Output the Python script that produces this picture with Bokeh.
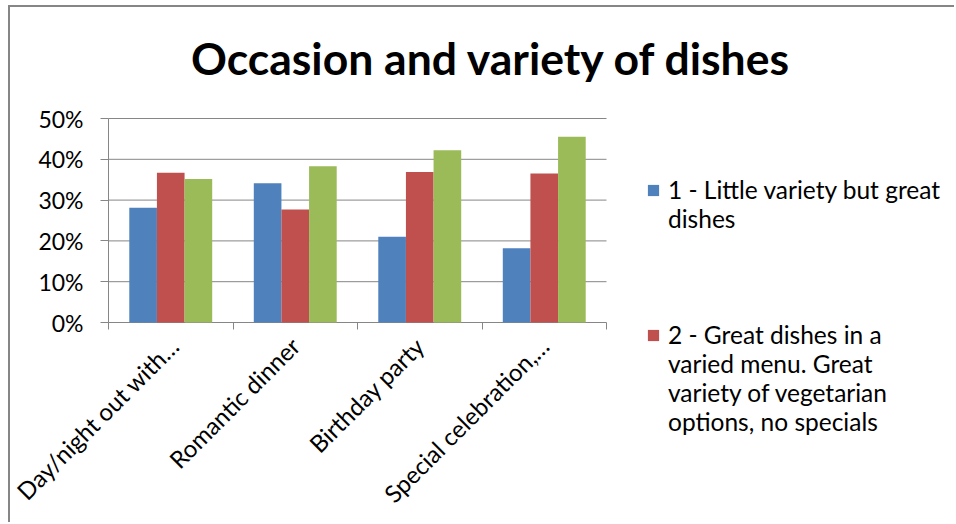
import numpy as np
from bokeh.plotting import figure
from bokeh.models import (ColumnDataSource, FixedTicker, NumeralTickFormatter, Label,
                          Legend, LegendItem, Range1d)
from bokeh.transform import dodge
from bokeh.embed import file_html
from bokeh.resources import INLINE

# ---- data ----
categories = ["Day/night out with\u2026", "Romantic dinner", "Birthday party", "Special celebration,\u2026"]
series1 = [0.281, 0.341, 0.210, 0.182]
series2 = [0.367, 0.277, 0.369, 0.365]
series3 = [0.352, 0.383, 0.422, 0.455]
series_names = ["1 - Little variety but great\ndishes",
                "2 - Great dishes in a\nvaried menu. Great\nvariety of vegetarian\noptions, no specials"]
y_ticks = [0, 0.1, 0.2, 0.3, 0.4, 0.5]
title_text = "Occasion and variety of dishes"

colors = ["#4F81BD", "#C0504D", "#9BBB59"]
FONT = "Lato"
GREY = "#868686"

# ---- layout (pixels, canvas coordinates; canvas sits 10,7 into the page) ----
W, H = 946, 517
PLOT_L, PLOT_T = 98, 111             # where the value axis / 50% line lie
PLOT_R, PLOT_B = 596, 315            # where the category axis ends / where 0% lies
n = len(categories)
px_per_x = (PLOT_R - PLOT_L) / n
px_per_y = (PLOT_B - PLOT_T) / y_ticks[-1]


def data_x(px):
    return (px - PLOT_L) / px_per_x


def data_y(py):
    return (PLOT_B - py) / px_per_y


centers = [i + 0.5 for i in range(n)]
src = ColumnDataSource(dict(x=centers, s1=series1, s2=series2, s3=series3))

p = figure(width=W, height=H, output_backend="svg", toolbar_location=None,
           x_range=Range1d(data_x(0), data_x(W)), y_range=Range1d(data_y(H), data_y(0)),
           min_border_left=0, min_border_right=0, min_border_top=0, min_border_bottom=0)
p.outline_line_color = None
p.background_fill_color = "white"
p.border_fill_color = "white"
p.title.visible = False
p.styles = {"margin-left": "8px", "margin-top": "5px",
            "border-left": "2px solid #868686", "border-top": "2px solid #868686"}
p.xgrid.grid_line_color = None
p.ygrid.grid_line_color = None

# horizontal gridlines across the category area only
p.segment(x0=[0] * len(y_ticks), x1=[n] * len(y_ticks), y0=y_ticks, y1=y_ticks,
          line_color=GREY, line_width=1)

bw = 0.222
rends = []
for key, off, c in [("s1", -bw, colors[0]), ("s2", 0.0, colors[1]), ("s3", bw, colors[2])]:
    rends.append(p.vbar(x=dodge("x", off), top=key, width=bw, bottom=0, source=src,
                        fill_color=c, line_color=None))

# value axis line (0% .. 50%)
p.segment(x0=[0], x1=[0], y0=[y_ticks[0]], y1=[y_ticks[-1]], line_color=GREY, line_width=1)

# y axis, drawn at x = 0
p.yaxis.fixed_location = 0
p.yaxis.ticker = FixedTicker(ticks=y_ticks)
p.yaxis.formatter = NumeralTickFormatter(format="0%")
p.yaxis.axis_line_color = None
p.yaxis.major_tick_line_color = GREY
p.yaxis.major_tick_out = 8
p.yaxis.major_tick_in = 0
p.yaxis.minor_tick_line_color = None
p.yaxis.major_label_text_font = FONT
p.yaxis.major_label_text_font_size = "23px"
p.yaxis.major_label_text_color = "black"
p.yaxis.major_label_standoff = 17

# x axis at 0%: labels at centers, tick marks at category boundaries
p.xaxis.fixed_location = 0
p.xaxis.ticker = FixedTicker(ticks=centers, minor_ticks=list(range(n + 1)))
p.xaxis.major_label_overrides = {c: lab for c, lab in zip(centers, categories)}
p.xaxis.axis_line_color = None
p.xaxis.major_tick_line_color = None
p.xaxis.major_tick_out = 0
p.xaxis.major_tick_in = 0
p.xaxis.minor_tick_line_color = GREY
p.xaxis.minor_tick_out = 7
p.xaxis.minor_tick_in = 0
p.xaxis.major_label_orientation = np.pi / 4
p.xaxis.major_label_text_font = FONT
p.xaxis.major_label_text_font_size = "24px"
p.xaxis.major_label_text_color = "black"
p.xaxis.major_label_standoff = 12

# title
p.add_layout(Label(x=data_x(481), y=data_y(50), text=title_text,
                   text_font=FONT, text_font_style="bold", text_font_size="44.5px",
                   text_color="black", text_align="center", text_baseline="alphabetic"))

# legend: one line per item; the third entry lies outside the visible area
items = []
for k, (name, r) in enumerate(zip(series_names, rends[:2])):
    lines = name.split("\n")
    items.append(LegendItem(label=lines[0], renderers=[r]))
    items += [LegendItem(label=ln, renderers=[]) for ln in lines[1:]]
    if k == 0:
        items += [LegendItem(label=" ", renderers=[]) for _ in range(3)]
legend = Legend(items=items, location=(636, 88), orientation="vertical",
                glyph_width=14, glyph_height=14, label_standoff=8, spacing=0,
                label_height=29, label_text_baseline="middle",
                label_text_font=FONT, label_text_font_size="24.5px",
                label_text_color="black",
                border_line_color=None, background_fill_alpha=0,
                margin=0, padding=0)
p.add_layout(legend)

open("out.html", "w").write(file_html(p, INLINE))
